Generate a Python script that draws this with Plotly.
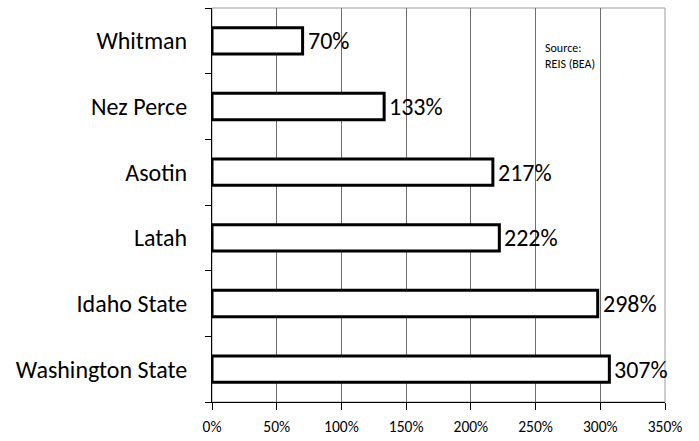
import plotly.graph_objects as go

# Regions listed bottom to top
regions = ["Washington State", "Idaho State", "Latah", "Asotin", "Nez Perce", "Whitman"]
growth_pct = [307, 298, 222, 217, 133, 70]
x_ticks = [0, 50, 100, 150, 200, 250, 300, 350]
x_tick_labels = [f"{t}%" for t in x_ticks]
source_note = "Source:<br>REIS (BEA)"

FONT = "Carlito, 'Open Sans', 'Noto Sans', sans-serif"

fig = go.Figure(
    go.Bar(
        y=regions,
        x=growth_pct,
        orientation="h",
        marker=dict(color="white", line=dict(color="black", width=3)),
        width=0.4,
        hoverinfo="skip",
    )
)

# value labels just past the end of each bar
for region, value in zip(regions, growth_pct):
    fig.add_annotation(
        x=value, y=region, text=f"{value}%", showarrow=False,
        xanchor="left", yanchor="middle", xshift=3,
        font=dict(family=FONT, size=24, color="black"),
    )

fig.update_layout(
    width=699,
    height=441,
    margin=dict(l=212, r=34, t=8, b=39),
    paper_bgcolor="white",
    plot_bgcolor="white",
    showlegend=False,
    font=dict(family=FONT, color="black"),
)

fig.update_xaxes(
    range=[0, 350],
    tickvals=x_ticks,
    ticktext=x_tick_labels,
    tickfont=dict(size=15.5, color="black"),
    showgrid=True,
    gridcolor="#6e6e6e",
    gridwidth=1,
    showline=True,
    linecolor="black",
    linewidth=1,
    ticks="outside",
    ticklen=7,
    tickcolor="black",
    ticklabelstandoff=3,
    zeroline=False,
    automargin=False,
    fixedrange=True,
)

fig.update_yaxes(
    categoryorder="array",
    categoryarray=regions,
    range=[-0.5, 5.5],
    tickfont=dict(size=24, color="black"),
    showgrid=False,
    showline=True,
    linecolor="black",
    linewidth=1,
    ticks="outside",
    tickson="boundaries",
    ticklen=6,
    tickcolor="black",
    ticklabelstandoff=19,
    zeroline=False,
    automargin=False,
    fixedrange=True,
)

# light frame on the top and right of the plot area
fig.add_shape(
    type="rect", xref="paper", yref="paper", x0=0, x1=1, y0=0, y1=1,
    line=dict(color="#9a9a9a", width=1), layer="below",
)

fig.add_annotation(
    xref="x", yref="paper", x=256, y=0.879,
    text=source_note, showarrow=False, xanchor="left", yanchor="middle",
    align="left", font=dict(family=FONT, size=12, color="black"),
)

fig.write_html("out.html")
